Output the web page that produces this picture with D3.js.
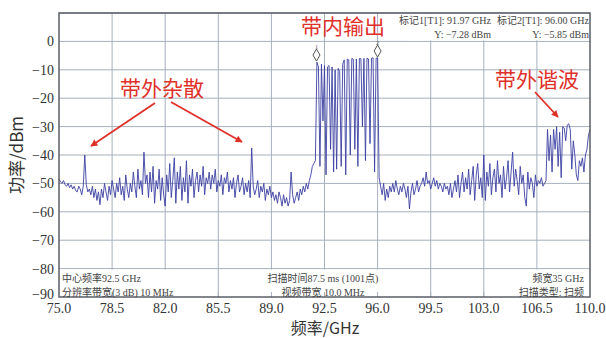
<!DOCTYPE html>
<html><head><meta charset="utf-8">
<script src="https://cdn.jsdelivr.net/npm/d3@7"></script>
<style>body{margin:0;background:#fff}svg{display:block}</style>
</head><body><svg id="c" width="606" height="338"></svg>
<script>
// ---- data ----
const freqStart = 75.0, freqStep = 0.1; // sweep 75.0 .. 110.0 GHz
const powerDbm = [
 -48.5,-49.5,-50,-49,-50.5,-51,-50,-51.5,-50.5,-52,
 -51,-52.5,-53,-51,-52,-54,-51,-40,-50.5,-53,
 -52,-54,-51,-55,-52,-56,-53,-57.5,-52,-55,
 -50,-53,-56,-51,-54,-49,-52,-55,-50,-53,
 -48,-54,-51,-56,-47,-52,-55,-50,-53,-46,
 -51,-55,-45,-52,-49,-54,-39,-50,-47,-55,
 -46,-53,-44,-57,-49,-52,-45,-56,-48,-54,
 -58,-47,-53,-43,-55,-49,-41,-57,-46,-52,
 -44,-56,-48,-53,-42,-57,-47,-51,-45,-55,
 -49,-46,-53,-47,-51,-44,-54,-48,-50,-46,
 -52,-47,-50,-45,-53,-49,-51,-47,-54,-48,
 -50,-46,-53,-49,-52,-48,-55,-50,-47,-53,
 -51,-48,-54,-50,-53,-49,-55,-37.5,-51,-54,
 -52,-49,-55,-51,-53,-50,-56,-52,-54,-51,
 -55,-53,-56,-54,-57,-53,-55,-58,-54,-57,
 -55,-58,-56,-46,-54,-57,-55,-53,-56,-52,
 -54,-51,-53,-50,-52,-49,-47,-44,-43,-42,
 -7.3,-9,-44,-8,-28,-8.5,-47,-9,-8.5,-38,
 -9,-46,-10,-45,-9.5,-10.5,-44,-8,-6.5,-47,
 -6.2,-6.5,-40,-6,-6.3,-38,-6.2,-44,-6,-6.1,
 -30,-6,-42,-5.9,-6.2,-36,-5.9,-5.8,-46,-5.9,
 -5.85,-48,-51,-54,-50,-56,-52,-55,-51,-53,
 -50,-53,-49,-52,-54,-51,-53,-50,-52,-55,
 -51,-59,-53,-50,-54,-52,-49,-53,-51,-50,
 -48,-51,-46,-50,-49,-52,-50,-48,-51,-49,
 -52,-50,-51,-53,-50,-52,-51,-54,-50,-55,
 -52,-49,-53,-47,-55,-50,-46,-53,-48,-52,
 -45,-54,-49,-44,-56,-47,-43,-52,-48,-55,
 -40,-56,-46,-51,-43,-54,-48,-45,-53,-42,
 -50,-47,-55,-44,-52,-48,-42,-53,-46,-39,
 -51,-45,-49,-54,-44,-50,-47,-55,-58,-46,
 -52,-48,-50,-55,-47,-51,-49,-50,-48,-51,
 -50,-49,-31,-42,-33,-46,-31,-38,-30,-44,
 -32,-48,-30,-30.5,-35,-29.5,-29,-31,-45,-35,
 -40,-47,-49,-42,-44,-41,-46,-40,-38,-33,
 -31
];
const xTicks = [75.0,78.5,82.0,85.5,89.0,92.5,96.0,99.5,103.0,106.5,110.0];
const yTicks = [0,-10,-20,-30,-40,-50,-60,-70,-80,-90];
const markerFreqs = [91.97, 96.00];
const markerLevels = [-7.28, -5.85];
const markerNames = ["1","2"];

// ---- layout ----
const svg = d3.select("#c");
const L=59, R=590, T=13, B=297;
const x = d3.scaleLinear().domain([75,110]).range([L,R]);
const y = d3.scaleLinear().domain([-90,10]).range([B,T]);
const serif = "'Liberation Serif','Noto Sans CJK SC',serif";
const cjk = "'Noto Sans CJK SC','Liberation Serif',serif";
const red = "#e0302a";
const gridC = "#a6b0bd";

const data = powerDbm.map((v,i)=>({f: freqStart + i*freqStep, p: v}));

// grid
const g = svg.append("g");
g.selectAll("line.v").data(xTicks.slice(1,-1)).join("line")
  .attr("x1",d=>x(d)).attr("x2",d=>x(d)).attr("y1",T).attr("y2",B)
  .attr("stroke",gridC).attr("stroke-width",1);
g.selectAll("line.h").data(yTicks.slice(0,-1).concat([10])).join("line")
  .attr("x1",L).attr("x2",R).attr("y1",d=>y(d)).attr("y2",d=>y(d))
  .attr("stroke",gridC).attr("stroke-width",1);

// trace
const line = d3.line().x(d=>x(d.f)).y(d=>y(d.p));
svg.append("path").datum(data).attr("d",line).attr("fill","none")
  .attr("stroke","#3b40a2").attr("stroke-width",0.9).attr("stroke-linejoin","round");

// info boxes (white background covering grid)
const boxes = [[L+1,y(-80)+1,110,B-y(-80)-2],[268,y(-80)+1,112,B-y(-80)-2],[528,y(-80)+1,R-529,B-y(-80)-2],[402,T+1,R-403,y(0)-T-2]];
svg.selectAll("rect.box").data(boxes).join("rect")
  .attr("x",d=>d[0]).attr("y",d=>d[1]).attr("width",d=>d[2]).attr("height",d=>d[3]).attr("fill","#fff");

// bottom inner ticks
svg.selectAll("line.bt").data(xTicks.slice(1,-1)).join("line")
  .attr("x1",d=>x(d)).attr("x2",d=>x(d)).attr("y1",B-5).attr("y2",B)
  .attr("stroke",gridC);

// frame
svg.append("rect").attr("x",L).attr("y",T).attr("width",R-L).attr("height",B-T)
  .attr("fill","none").attr("stroke","#5a5e66").attr("stroke-width",1.5);

// axes labels
svg.selectAll("text.xt").data(xTicks).join("text")
  .attr("x",d=>x(d)).attr("y",313).attr("text-anchor","middle")
  .attr("font-family",serif).attr("font-size",14).attr("fill","#333")
  .text(d=>d.toFixed(1));
svg.selectAll("text.yt").data(yTicks).join("text")
  .attr("x",54).attr("y",d=>Math.min(y(d),B-3)+5).attr("text-anchor","end")
  .attr("font-family",serif).attr("font-size",14).attr("fill","#333")
  .text(d=>d===0?"0":"\u2212"+Math.abs(d));
svg.append("text").attr("x",325).attr("y",334).attr("text-anchor","middle")
  .attr("font-family",cjk).attr("font-size",16).attr("fill","#333").text("频率/GHz");
svg.append("text").attr("transform","translate(23,155) rotate(-90)").attr("text-anchor","middle")
  .attr("font-family",cjk).attr("font-size",17).attr("fill","#333").text("功率/dBm");

// info texts
const info = [
  {t:"中心频率92.5 GHz", x:62, y:282, a:"start"},
  {t:"分辨率带宽(3 dB) 10 MHz", x:62, y:296, a:"start"},
  {t:"扫描时间87.5 ms (1001点)", x:323, y:282, a:"middle"},
  {t:"视频带宽 10.0 MHz", x:323, y:296, a:"middle"},
  {t:"频宽35 GHz", x:584, y:282, a:"end"},
  {t:"扫描类型: 扫频", x:584, y:296, a:"end"},
  {t:"标记1[T1]: 91.97 GHz", x:491, y:24, a:"end"},
  {t:"Y: \u22127.28 dBm", x:491, y:38, a:"end"},
  {t:"标记2[T1]: 96.00 GHz", x:589, y:24, a:"end"},
  {t:"Y: \u22125.85 dBm", x:589, y:38, a:"end"}
];
svg.selectAll("text.info").data(info).join("text")
  .attr("x",d=>d.x).attr("y",d=>d.y).attr("text-anchor",d=>d.a)
  .attr("font-family",serif).attr("font-size",10).attr("fill","#444").text(d=>d.t);

// markers
const mk = svg.selectAll("g.mk").data(markerFreqs.map((f,i)=>({f,p:markerLevels[i],n:markerNames[i]}))).join("g");
mk.append("path").attr("d",d=>{const cx=x(d.f), by=y(d.p)-1; return `M${cx},${by} L${cx+3.5},${by-6} L${cx},${by-12} L${cx-3.5},${by-6} Z`;})
  .attr("fill","#fff").attr("stroke","#555").attr("stroke-width",1);
mk.append("text").attr("x",d=>x(d.f)).attr("y",d=>y(d.p)-13.5).attr("text-anchor","middle")
  .attr("font-family",serif).attr("font-size",6).attr("fill","#555").text(d=>d.n);

// annotations
const ann = [
  {t:"带外杂散", x:162, y:96},
  {t:"带内输出", x:343, y:34},
  {t:"带外谐波", x:537, y:87}
];
svg.selectAll("text.ann").data(ann).join("text")
  .attr("x",d=>d.x).attr("y",d=>d.y).attr("text-anchor","middle")
  .attr("font-family",cjk).attr("font-size",21).attr("fill",red).text(d=>d.t);

const defs = svg.append("defs");
defs.append("marker").attr("id","ah").attr("viewBox","0 0 10 10").attr("refX",9).attr("refY",5)
  .attr("markerWidth",9).attr("markerHeight",7).attr("orient","auto").attr("markerUnits","userSpaceOnUse")
  .append("path").attr("d","M0,0 L10,5 L0,10 Z").attr("fill",red);
const arrows = [[155,103,91,146],[171,102,242,142],[535,92,558,117]];
svg.selectAll("line.ar").data(arrows).join("line")
  .attr("x1",d=>d[0]).attr("y1",d=>d[1]).attr("x2",d=>d[2]).attr("y2",d=>d[3])
  .attr("stroke",red).attr("stroke-width",1.8).attr("marker-end","url(#ah)");
</script></body></html>
